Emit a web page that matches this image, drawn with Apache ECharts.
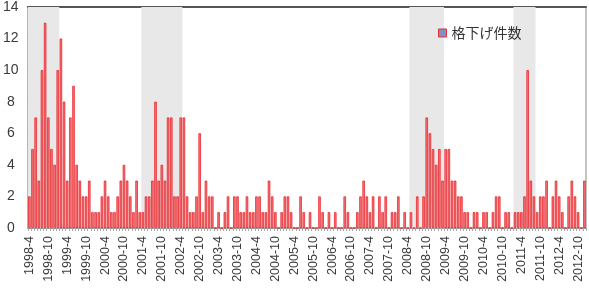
<!DOCTYPE html>
<html>
<head>
<meta charset="utf-8">
<script src="https://cdn.jsdelivr.net/npm/echarts@6/dist/echarts.min.js"></script>
<style>
html,body{margin:0;padding:0;background:#fff;}
#c{width:589px;height:307px;}
</style>
</head>
<body>
<div id="c"></div>
<script>
// Monthly categories: 1998-4 .. 2012-12
const startYear = 1998, startMonth = 4, monthCount = 177;
const months = [];
for (let i = 0; i < monthCount; i++) {
  const m = startMonth - 1 + i;
  months.push((startYear + Math.floor(m / 12)) + '-' + (m % 12 + 1));
}

// Number of downgrades per month
const downgrades = [
  2,5,7,3,10,13,7,5,4,10,12,8,3,7,9,4,3,2,2,3,
  1,1,1,2,3,2,1,1,2,3,4,3,2,1,3,1,1,2,2,3,
  8,3,4,3,7,7,2,2,7,7,2,1,1,2,6,1,3,2,2,0,
  1,0,1,2,0,2,2,1,1,2,1,1,2,2,1,1,3,2,1,0,
  1,2,2,1,0,0,2,1,0,1,0,0,2,1,0,1,0,1,0,0,
  2,1,0,0,1,2,3,2,1,2,0,2,1,2,0,1,1,2,0,1,
  0,1,0,2,0,2,7,6,5,4,5,3,5,5,3,3,2,2,1,1,
  0,1,1,0,1,1,0,1,2,2,0,1,1,0,1,1,1,2,10,3,
  2,1,2,2,3,0,2,3,2,1,0,2,3,2,1,0,3
];

// Shaded recession periods (first month, last month)
const recessions = [
  ['1998-4', '1999-1'],
  ['2001-4', '2002-4'],
  ['2008-5', '2009-3'],
  ['2011-2', '2011-8']
];

const seriesName = '格下げ件数';
const yTicks = { min: 0, max: 14, interval: 2 };

const areas = recessions.map(r => [
  { xAxis: months.indexOf(r[0]) },
  { xAxis: months.indexOf(r[1]) + 1 }
]);

const chart = echarts.init(document.getElementById('c'), null, { renderer: 'canvas' });
chart.setOption({
  animation: false,
  backgroundColor: '#ffffff',
  grid: {
    left: 27, right: 3, top: 5, bottom: 79,
    show: true, borderColor: '#888', borderWidth: 1, backgroundColor: 'transparent'
  },
  legend: {
    data: [{ name: seriesName, itemStyle: { color: '#7f93c3', borderColor: '#e0303a', borderWidth: 1 } }],
    left: 433, top: 21,
    itemWidth: 8, itemHeight: 8, itemGap: 6,
    icon: 'rect',
    textStyle: { fontFamily: 'Noto Sans CJK JP', fontSize: 14, color: '#333' }
  },
  xAxis: [
    {
      type: 'category',
      data: months,
      boundaryGap: true,
      axisLine: { show: true, lineStyle: { color: '#999', width: 1 } },
      axisTick: { show: true, interval: 0, length: 3, lineStyle: { color: '#aaa' } },
      axisLabel: {
        interval: 5, rotate: 90, margin: 8,
        fontFamily: 'Liberation Sans', fontSize: 12.5, color: '#3a3a3a'
      },
      splitLine: { show: false }
    },
    {
      type: 'value', min: 0, max: monthCount, show: false,
      splitLine: { show: false }
    },
    {
      type: 'value', min: 0, max: monthCount, position: 'top', show: true,
      axisLine: { show: true, lineStyle: { color: '#555', width: 2 } },
      axisTick: { show: false }, axisLabel: { show: false },
      splitLine: { show: false }
    }
  ],
  yAxis: {
    type: 'value',
    min: yTicks.min, max: yTicks.max, interval: yTicks.interval,
    axisLine: { show: true, lineStyle: { color: '#888' } },
    axisTick: { show: true, inside: true, length: 3, lineStyle: { color: '#888' } },
    axisLabel: {
      fontFamily: 'Liberation Sans', fontSize: 14, color: '#3a3a3a',
      align: 'center', margin: 17
    },
    splitLine: { show: false }
  },
  series: [
    {
      name: 'shade',
      type: 'line',
      xAxisIndex: 1,
      data: [],
      silent: true,
      markArea: {
        silent: true,
        itemStyle: { color: '#e8e8e8' },
        data: areas
      },
      z: 0
    },
    {
      name: seriesName,
      type: 'bar',
      data: downgrades,
      barCategoryGap: '22%',
      itemStyle: { color: '#f07a7a', borderColor: '#e8141c', borderWidth: 0.7 },
      z: 2
    }
  ]
});
</script>
</body>
</html>
